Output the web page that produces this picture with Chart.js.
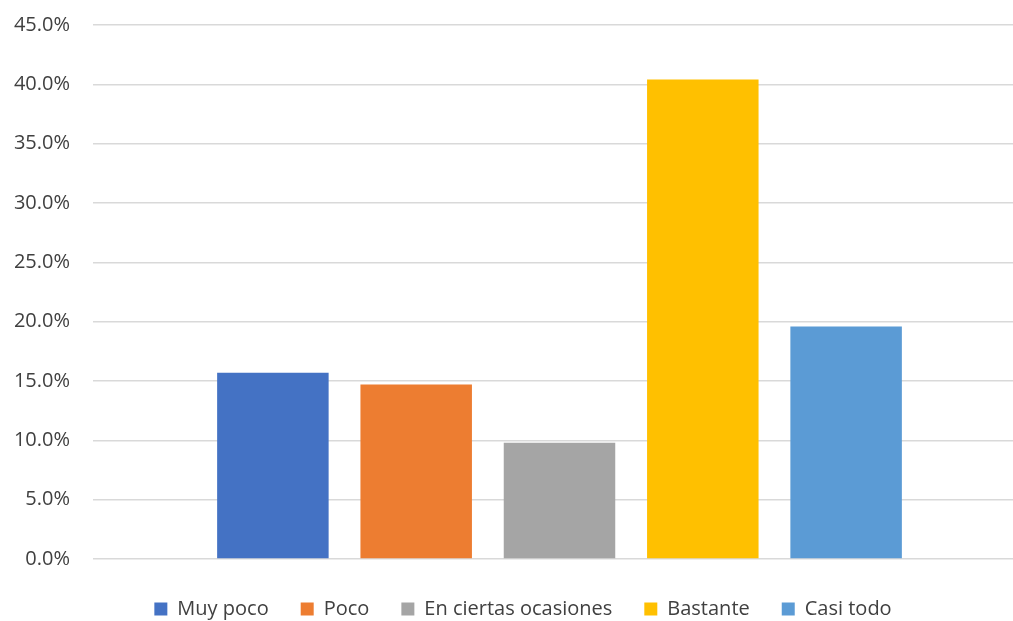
<!DOCTYPE html>
<html>
<head>
<meta charset="utf-8">
<script src="https://cdn.jsdelivr.net/npm/chart.js@4/dist/chart.umd.min.js"></script>
<style>
  html, body { margin: 0; padding: 0; background: #fff; overflow: hidden; }
  #wrap { width: 1026px; height: 629px; }
</style>
</head>
<body>
<div id="wrap"><canvas id="chart" width="1026" height="629"></canvas></div>
<script>
const categories = ['']
const seriesNames = ['Muy poco', 'Poco', 'En ciertas ocasiones', 'Bastante', 'Casi todo']
const seriesValues = [15.7, 14.7, 9.8, 40.4, 19.6]
const seriesColors = ['#4472C4', '#ED7D31', '#A5A5A5', '#FFC000', '#5B9BD5']
const yTicks = [0, 5, 10, 15, 20, 25, 30, 35, 40, 45]

const ctx = document.querySelector('#chart')

// nudge the legend a bit to the right, like in the original
const legendShift = {
    id: 'legendShift',
    afterLayout(chart) {
        chart.legend.left += 20
    }
}

new Chart(ctx, {
    type: 'bar',
    data: {
        labels: categories,
        datasets: seriesNames.map((name, i) => ({
            label: name,
            data: [seriesValues[i]],
            backgroundColor: seriesColors[i],
            categoryPercentage: 0.768,
            barPercentage: 0.778
        }))
    },
    options: {
        responsive: false,
        animation: false,
        layout: { padding: { top: 25, right: 0, left: 0, bottom: 0 } },
        plugins: {
            tooltip: { enabled: false },
            legend: {
                position: 'bottom',
                labels: {
                    boxWidth: 13,
                    boxHeight: 13,
                    padding: 32,
                    color: '#404040',
                    font: { family: 'Open Sans', size: 20 }
                }
            }
        },
        scales: {
            x: {
                grid: { display: false },
                border: { display: false },
                ticks: { display: false },
                afterFit: axis => { axis.height = 8 }
            },
            y: {
                min: yTicks[0],
                max: yTicks[yTicks.length - 1],
                afterBuildTicks: axis => { axis.ticks = yTicks.map(v => ({ value: v })) },
                afterFit: axis => { axis.width = 93; axis.paddingTop = 0 },
                grid: { color: '#d9d9d9', lineWidth: 1.5, drawTicks: false },
                border: { display: false },
                ticks: {
                    padding: 23,
                    color: '#404040',
                    font: { family: 'Open Sans', size: 20 },
                    callback: v => v.toFixed(1) + '%'
                }
            }
        }
    },
    plugins: [legendShift]
})
</script>
</body>
</html>
